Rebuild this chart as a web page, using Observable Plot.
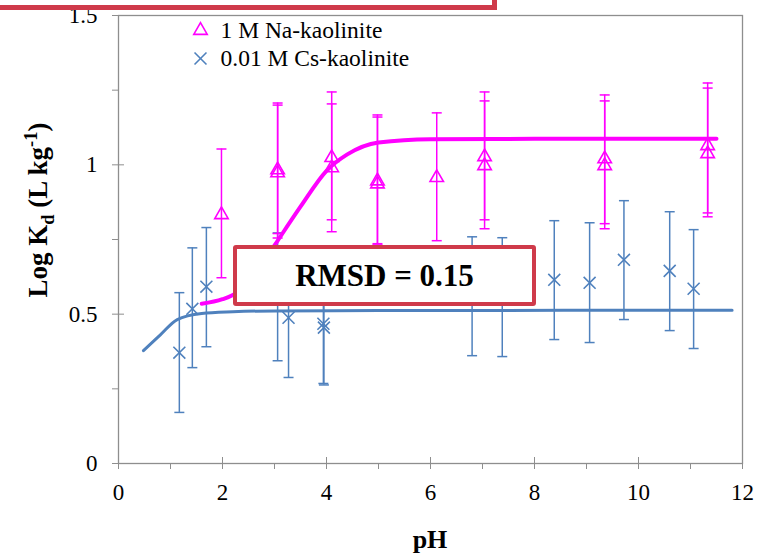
<!DOCTYPE html>
<html>
<head>
<meta charset="utf-8">
<script src="https://cdn.jsdelivr.net/npm/d3@7"></script>
<script src="https://cdn.jsdelivr.net/npm/@observablehq/plot@0.6"></script>
<style>
  html, body { margin: 0; padding: 0; background: #fff; }
  #wrap { position: relative; width: 759px; height: 555px; overflow: hidden; font-family: "Liberation Serif", "Times New Roman", serif; }
  #wrap svg { position: absolute; left: 0; top: 0; }
  .ylab { position: absolute; left: 40px; top: 210px; transform: translate(-50%, -50%) rotate(-90deg); white-space: nowrap; font-weight: bold; font-size: 27px; }
  .ylab sub, .ylab sup { font-size: 0.68em; }
  .xlab { position: absolute; left: 430px; top: 540px; transform: translate(-50%, -50%); font-weight: bold; font-size: 26px; }
  .rmsd { position: absolute; left: 233px; top: 245px; width: 303px; height: 61px; box-sizing: border-box; border: 4.5px solid #cf3a4a; border-radius: 3px; background: #fff; display: flex; align-items: center; justify-content: center; font-weight: bold; font-size: 31px; }
  .topbox { position: absolute; left: -10px; top: -30px; width: 507px; height: 40px; box-sizing: border-box; border: 5px solid #cf3a4a; background: #fff; }
</style>
</head>
<body>
<div id="wrap"></div>
<script>
// ---- data ----
const seriesNames = ["1 M Na-kaolinite", "0.01 M Cs-kaolinite"];

const naPH    = [1.98, 3.06, 3.06, 4.10, 4.10, 4.98, 4.98, 6.12, 7.04, 7.04, 9.35, 9.35, 11.33, 11.33];
const naLogKd = [0.833, 0.983, 0.973, 1.024, 0.990, 0.946, 0.936, 0.957, 1.027, 0.997, 1.020, 0.997, 1.064, 1.037];
const naLow   = [0.622, 0.770, 0.755, 0.816, 0.776, 0.736, 0.732, 0.746, 0.816, 0.786, 0.803, 0.786, 0.839, 0.826];
const naHigh  = [1.053, 1.207, 1.200, 1.244, 1.204, 1.167, 1.160, 1.174, 1.244, 1.214, 1.234, 1.214, 1.274, 1.257];

const csPH    = [1.17, 1.42, 1.69, 3.06, 3.27, 3.94, 3.95, 6.80, 7.38, 8.38, 9.06, 9.72, 10.60, 11.06];
const csLogKd = [0.371, 0.518, 0.592, 0.558, 0.488, 0.468, 0.455, 0.560, 0.557, 0.615, 0.605, 0.682, 0.645, 0.585];
const csLow   = [0.171, 0.321, 0.391, 0.344, 0.288, 0.268, 0.263, 0.361, 0.358, 0.415, 0.405, 0.482, 0.445, 0.385];
const csHigh  = [0.572, 0.722, 0.790, 0.772, 0.690, 0.668, 0.655, 0.759, 0.756, 0.813, 0.806, 0.880, 0.843, 0.783];

const naFitPH    = [1.6, 2.0, 2.3, 2.6, 3.0, 3.5, 4.0, 4.4, 5.0, 6.0, 8.0, 11.5];
const naFitLogKd = [0.535, 0.550, 0.575, 0.625, 0.730, 0.860, 0.980, 1.035, 1.075, 1.086, 1.087, 1.087];
const csFitPH    = [0.48, 0.80, 1.13, 1.60, 2.20, 3.00, 5.00, 11.80];
const csFitLogKd = [0.378, 0.430, 0.482, 0.502, 0.508, 0.511, 0.512, 0.513];

const xMajorTicks = [0, 2, 4, 6, 8, 10, 12];
const xMinorTicks = [1, 3, 5, 7, 9, 11];
const yMajorTicks = [0, 0.5, 1, 1.5];
const yMinorTicks = [0.25, 0.75, 1.25];
const rmsdLabel = "RMSD = 0.15";

// ---- build ----
const MAG = "#ff00ff", BLUE = "#4f81bd", GRAY = "#8e8e8e";
const na = naPH.map((x, i) => ({x, y: naLogKd[i], lo: naLow[i], hi: naHigh[i]}));
const cs = csPH.map((x, i) => ({x, y: csLogKd[i], lo: csLow[i], hi: csHigh[i]}));
const naFit = naFitPH.map((x, i) => ({x, y: naFitLogKd[i]}));
const csFit = csFitPH.map((x, i) => ({x, y: csFitLogKd[i]}));

const cap = { draw(ctx, size) { const r = Math.sqrt(size / Math.PI); ctx.moveTo(-r, 0); ctx.lineTo(r, 0); } };
const blank = () => "";

const chart = Plot.plot({
  width: 759, height: 555,
  marginLeft: 118, marginRight: 17, marginTop: 15, marginBottom: 92,
  style: { fontFamily: "'Liberation Serif', 'Times New Roman', serif", fontSize: "23px", background: "white", color: "black" },
  x: { domain: [0, 12] },
  y: { domain: [0, 1.5] },
  marks: [
    // axes ticks
    Plot.axisX({ ticks: xMinorTicks, tickSize: 6, tickFormat: blank, stroke: GRAY, label: null }),
    Plot.axisX({ ticks: xMajorTicks, tickSize: 12, dy: -6, tickFormat: blank, stroke: GRAY, label: null }),
    Plot.axisX({ ticks: xMajorTicks, tickSize: 0, tickPadding: 20, tickFormat: d => String(d), label: null, fill: "black" }),
    Plot.axisY({ ticks: yMinorTicks, tickSize: 6, tickFormat: blank, stroke: GRAY, label: null }),
    Plot.axisY({ ticks: yMajorTicks, tickSize: 12, dx: 6, tickFormat: blank, stroke: GRAY, label: null }),
    Plot.axisY({ ticks: yMajorTicks, tickSize: 0, tickPadding: 21, tickFormat: d => String(d), label: null, fill: "black" }),
    Plot.frame({ stroke: GRAY, strokeWidth: 1.3 }),
    // error bars
    Plot.ruleX(cs, { x: "x", y1: "lo", y2: "hi", stroke: BLUE, strokeWidth: 1.5 }),
    Plot.dot(cs, { x: "x", y: "lo", symbol: cap, r: 5, stroke: BLUE, strokeWidth: 1.5 }),
    Plot.dot(cs, { x: "x", y: "hi", symbol: cap, r: 5, stroke: BLUE, strokeWidth: 1.5 }),
    Plot.ruleX(na, { x: "x", y1: "lo", y2: "hi", stroke: MAG, strokeWidth: 1.5 }),
    Plot.dot(na, { x: "x", y: "lo", symbol: cap, r: 5, stroke: MAG, strokeWidth: 1.5 }),
    Plot.dot(na, { x: "x", y: "hi", symbol: cap, r: 5, stroke: MAG, strokeWidth: 1.5 }),
    // model lines
    Plot.line(csFit, { x: "x", y: "y", stroke: BLUE, strokeWidth: 3, curve: "monotone-x" }),
    Plot.line(naFit, { x: "x", y: "y", stroke: MAG, strokeWidth: 4, curve: "monotone-x" }),
    // markers
    Plot.dot(cs, { x: "x", y: "y", symbol: "times", r: 5.5, stroke: BLUE, strokeWidth: 1.6 }),
    Plot.dot(na, { x: "x", y: "y", symbol: "triangle", r: 5, stroke: MAG, strokeWidth: 1.6, fill: "none" }),
    // legend
    Plot.dot([seriesNames[0]], { frameAnchor: "top-left", dx: 82, dy: 15, symbol: "triangle", r: 5, stroke: MAG, strokeWidth: 1.6, fill: "none" }),
    Plot.dot([seriesNames[1]], { frameAnchor: "top-left", dx: 82, dy: 43, symbol: "times", r: 5.5, stroke: BLUE, strokeWidth: 1.6 }),
    Plot.text([seriesNames[0]], { frameAnchor: "top-left", dx: 102, dy: 15, text: d => d, textAnchor: "start", lineAnchor: "middle", fontSize: 23.5, fill: "black" }),
    Plot.text([seriesNames[1]], { frameAnchor: "top-left", dx: 102, dy: 43, text: d => d, textAnchor: "start", lineAnchor: "middle", fontSize: 23.5, fill: "black" })
  ]
});

const wrap = document.getElementById("wrap");
wrap.appendChild(chart);

const ylab = document.createElement("div");
ylab.className = "ylab";
ylab.innerHTML = "Log K<sub>d</sub> (L kg<sup>-1</sup>)";
wrap.appendChild(ylab);

const xlab = document.createElement("div");
xlab.className = "xlab";
xlab.textContent = "pH";
wrap.appendChild(xlab);

const box = document.createElement("div");
box.className = "rmsd";
box.textContent = rmsdLabel;
wrap.appendChild(box);

const topbox = document.createElement("div");
topbox.className = "topbox";
wrap.appendChild(topbox);
</script>
</body>
</html>
